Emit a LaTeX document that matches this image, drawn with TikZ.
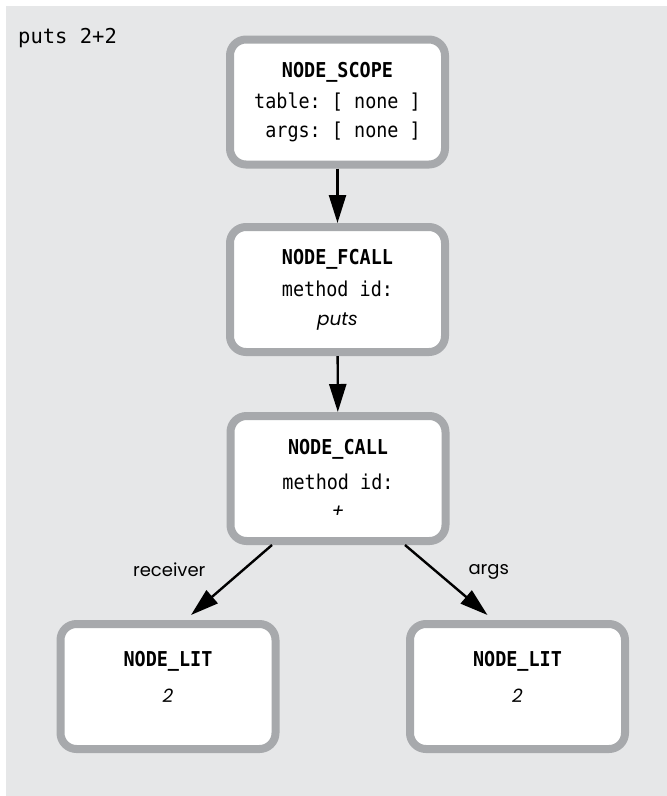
\documentclass[tikz,border=0pt]{standalone}
\usepackage{fontspec}
\setsansfont{Poppins}
\setmonofont{DejaVu Sans Mono}
\newfontfamily\boxmono{DejaVu Sans Mono}[FakeStretch=0.9]
\usetikzlibrary{arrows.meta}
\definecolor{panelgray}{HTML}{E6E7E8}
\definecolor{boxgray}{HTML}{A7A9AC}

\begin{document}
\begin{tikzpicture}[x=1pt, y=-1pt, inner sep=3pt]
		\tikzstyle{every node}=[align=center]
		\tikzstyle{astnode}=[draw=boxgray, line width=8pt, fill=white, rounded corners=16pt, minimum width=215pt, minimum height=125pt, font=\boxmono\frenchspacing\fontsize{20.5}{28.5}\selectfont]
		\tikzstyle{edge}=[line width=2.4pt, -{Triangle[length=28pt, width=17pt]}]
		\tikzstyle{edgelabel}=[font=\sffamily\fontsize{18}{20}\selectfont]
		\newcommand{\val}[1]{{\sffamily\itshape\fontsize{18.5}{28}\selectfont #1}}

			\useasboundingbox (0, 0) rectangle (667, 796);
			\fill[panelgray] (6, 6) rectangle (667, 796);

			\node[anchor=base west, font=\ttfamily\fontsize{20.5}{24}\selectfont] (source) at (15, 43) {puts 2+2};

			\node[astnode] (scope) at (337.5, 102) {\textbf{NODE\_SCOPE}\\[3pt]table: [ none ]\\\hphantom{t}args: [ none ]};
			\node[astnode] (fcall) at (337.5, 289.5) {\textbf{NODE\_FCALL}\\[4pt]method id:\\\val{puts}};
			\node[astnode] (call) at (338, 478.5) {\textbf{NODE\_CALL}\\[6pt]method id:\\\val{+}};
			\node[astnode] (litrecv) at (168, 686.5) {\textbf{NODE\_LIT}\\[8pt]\val{2}\\[-9pt]\mbox{}};
			\node[astnode] (litargs) at (517.5, 686.5) {\textbf{NODE\_LIT}\\[8pt]\val{2}\\[-9pt]\mbox{}};

			\draw[edge] (scope) -- (fcall);
			\draw[edge] (fcall) -- (call);
			\draw[edge] ([xshift=-66pt]call.south) -- node[edgelabel, pos=0.35, left=34pt] {receiver} ([xshift=23pt, yshift=5pt]litrecv.north);
			\draw[edge] ([xshift=67pt]call.south) -- node[edgelabel, pos=0.38, right=28pt] {args} ([xshift=-30pt, yshift=5pt]litargs.north);
		\end{tikzpicture}
\end{document}
